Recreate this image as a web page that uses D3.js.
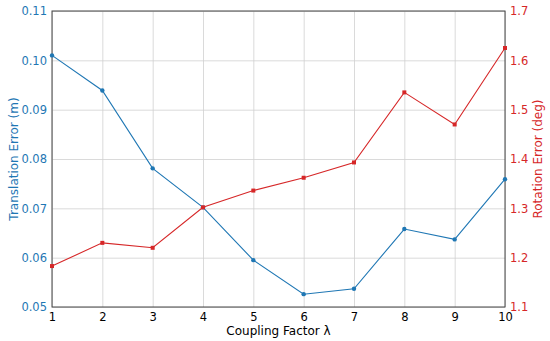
<!DOCTYPE html>
<html>
<head>
<meta charset="utf-8">
<script src="https://cdn.jsdelivr.net/npm/d3@7"></script>
<style>
  body { margin: 0; background: #fff; }
  text { font-family: "DejaVu Sans", sans-serif; }
  .grid line { stroke: #d0d0d0; stroke-width: 0.8; }
  .grid path { display: none; }
</style>
</head>
<body>
<div id="chart"></div>
<script>
// chart data
var lambdas = [1, 2, 3, 4, 5, 6, 7, 8, 9, 10];
var transErr = [0.1010, 0.0939, 0.0781, 0.0702, 0.0595, 0.0526, 0.0537, 0.0658, 0.0637, 0.0759];
var rotErr = [1.183, 1.230, 1.220, 1.302, 1.336, 1.362, 1.393, 1.535, 1.470, 1.625];
var leftTicks = [0.05, 0.06, 0.07, 0.08, 0.09, 0.10, 0.11];
var rightTicks = [1.1, 1.2, 1.3, 1.4, 1.5, 1.6, 1.7];

var svgWidth = 550;
var svgHeight = 341;

var margin = { top: 11, bottom: 34, left: 52, right: 45 };
var width = svgWidth - margin.left - margin.right;
var height = svgHeight - margin.top - margin.bottom;

var blue = "#1f77b4";
var red = "#d62728";

var svg = d3.select("#chart")
  .append("svg")
  .attr("width", svgWidth)
  .attr("height", svgHeight);

var chartGroup = svg.append("g")
  .attr("transform", `translate(${margin.left}, ${margin.top})`);

// scales
var xScale = d3.scaleLinear().domain([1, 10]).range([0, width]);
var yLeft = d3.scaleLinear().domain([0.05, 0.11]).range([height, 0]);
var yRight = d3.scaleLinear().domain([1.1, 1.7]).range([height, 0]);

// grid
chartGroup.append("g")
  .attr("class", "grid")
  .attr("transform", `translate(0, ${height})`)
  .call(d3.axisBottom(xScale).tickValues(lambdas).tickSize(-height).tickFormat(""));

chartGroup.append("g")
  .attr("class", "grid")
  .call(d3.axisLeft(yLeft).tickValues(leftTicks).tickSize(-width).tickFormat(""));

// axes (no tick marks, labels only)
var bottomAxis = chartGroup.append("g")
  .attr("transform", `translate(0, ${height})`)
  .call(d3.axisBottom(xScale).tickValues(lambdas).tickSize(0).tickPadding(6).tickFormat(d3.format("d")));
bottomAxis.selectAll("text").attr("font-size", "11.5px").attr("fill", "#000");

var leftAxis = chartGroup.append("g")
  .call(d3.axisLeft(yLeft).tickValues(leftTicks).tickSize(0).tickPadding(5).tickFormat(d3.format(".2f")));
leftAxis.selectAll("text").attr("font-size", "11.5px").attr("fill", blue);

var rightAxis = chartGroup.append("g")
  .attr("transform", `translate(${width}, 0)`)
  .call(d3.axisRight(yRight).tickValues(rightTicks).tickSize(0).tickPadding(5).tickFormat(d3.format(".1f")));
rightAxis.selectAll("text").attr("font-size", "11.5px").attr("fill", red);

[bottomAxis, leftAxis, rightAxis].forEach(function (ax) {
  ax.select(".domain").remove();
  ax.attr("font-family", null);
});

// frame
chartGroup.append("rect")
  .attr("width", width)
  .attr("height", height)
  .attr("fill", "none")
  .attr("stroke", "#444")
  .attr("stroke-width", 1);

// lines
var lineT = d3.line().x((d, i) => xScale(lambdas[i])).y(d => yLeft(d));
var lineR = d3.line().x((d, i) => xScale(lambdas[i])).y(d => yRight(d));

chartGroup.append("path")
  .datum(transErr)
  .attr("d", lineT)
  .attr("fill", "none")
  .attr("stroke", blue)
  .attr("stroke-width", 1.1);

chartGroup.selectAll(".tdot")
  .data(transErr)
  .enter()
  .append("circle")
  .attr("class", "tdot")
  .attr("cx", (d, i) => xScale(lambdas[i]))
  .attr("cy", d => yLeft(d))
  .attr("r", 2.2)
  .attr("fill", blue);

chartGroup.append("path")
  .datum(rotErr)
  .attr("d", lineR)
  .attr("fill", "none")
  .attr("stroke", red)
  .attr("stroke-width", 1.1);

chartGroup.selectAll(".rdot")
  .data(rotErr)
  .enter()
  .append("rect")
  .attr("class", "rdot")
  .attr("x", (d, i) => xScale(lambdas[i]) - 2)
  .attr("y", d => yRight(d) - 2)
  .attr("width", 4)
  .attr("height", 4)
  .attr("fill", red);

// axis labels
chartGroup.append("text")
  .attr("x", width / 2)
  .attr("y", height + 27.5)
  .attr("text-anchor", "middle")
  .attr("font-size", "12px")
  .attr("fill", "#000")
  .text("Coupling Factor λ");

chartGroup.append("text")
  .attr("transform", "rotate(-90)")
  .attr("x", -height / 2)
  .attr("y", -margin.left + 17.5)
  .attr("text-anchor", "middle")
  .attr("font-size", "12px")
  .attr("fill", blue)
  .text("Translation Error (m)");

chartGroup.append("text")
  .attr("transform", "rotate(-90)")
  .attr("x", -height / 2)
  .attr("y", width + 36.5)
  .attr("text-anchor", "middle")
  .attr("font-size", "12px")
  .attr("fill", red)
  .text("Rotation Error (deg)");
</script>
</body>
</html>
